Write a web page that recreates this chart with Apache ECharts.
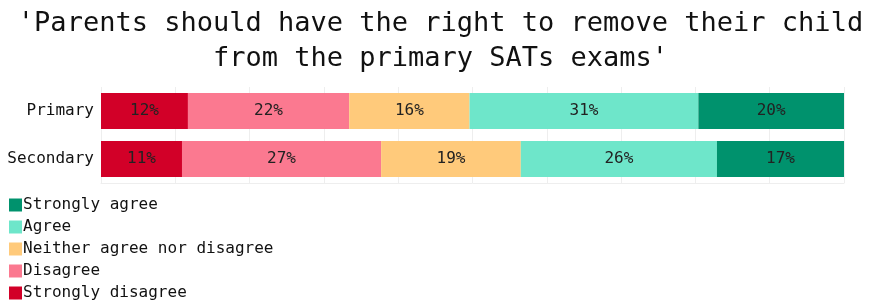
<!DOCTYPE html>
<html>
<head>
<meta charset="utf-8">
<script src="https://cdn.jsdelivr.net/npm/echarts@6/dist/echarts.min.js"></script>
<style>
html,body{margin:0;padding:0;background:#fff;}
#chart{width:881px;height:303px;}
</style>
</head>
<body>
<div id="chart"></div>
<script>
const categories = ['Primary', 'Secondary'];
const seriesNames = ['Strongly disagree', 'Disagree', 'Neither agree nor disagree', 'Agree', 'Strongly agree'];
const stronglyDisagree = [11.7, 10.9];
const disagree = [21.7, 26.8];
const neither = [16.2, 18.8];
const agree = [30.8, 26.4];
const stronglyAgree = [19.7, 17.1];
const colors = ['#d20028', '#fb7990', '#ffca7b', '#6ee6ca', '#00926d'];
const titleText = "'Parents should have the right to remove their child\nfrom the primary SATs exams'";

const values = [stronglyDisagree, disagree, neither, agree, stronglyAgree];
const FONT = '"DejaVu Sans Mono", "Liberation Mono", monospace';

const chart = echarts.init(document.getElementById('chart'));
chart.setOption({
  animation: false,
  backgroundColor: '#fff',
  textStyle: { fontFamily: FONT },
  title: {
    text: titleText,
    left: 'center',
    top: 1,
    textStyle: { fontFamily: FONT, fontSize: 27, fontWeight: 'normal', color: '#111', lineHeight: 35 }
  },
  legend: {
    orient: 'vertical',
    left: 4,
    top: 192,
    height: 130,
    itemWidth: 13,
    itemHeight: 13,
    itemGap: 6,
    icon: 'rect',
    data: seriesNames.slice().reverse(),
    textStyle: { fontFamily: FONT, fontSize: 16, color: '#111', padding: [0, 0, 0, -4] }
  },
  grid: { left: 101, right: 37, top: 87, bottom: 120, containLabel: false },
  xAxis: {
    type: 'value',
    min: 0,
    max: 100,
    interval: 10,
    axisLabel: { show: false },
    axisTick: { show: false },
    axisLine: { show: true, lineStyle: { color: '#eeeeee' } },
    splitLine: { show: true, lineStyle: { color: '#eeeeee' } }
  },
  yAxis: {
    type: 'category',
    inverse: true,
    data: categories,
    axisTick: { show: false },
    axisLine: { show: false },
    axisLabel: { fontFamily: FONT, fontSize: 16, color: '#111', margin: 7 }
  },
  series: seriesNames.map((name, i) => ({
    name: name,
    type: 'bar',
    stack: 'total',
    barWidth: '75%',
    data: values[i],
    itemStyle: { color: colors[i] },
    label: {
      show: true,
      position: 'inside',
      fontFamily: FONT,
      fontSize: 16,
      color: '#222',
      formatter: p => Math.round(p.value) + '%'
    }
  }))
});
</script>
</body>
</html>
